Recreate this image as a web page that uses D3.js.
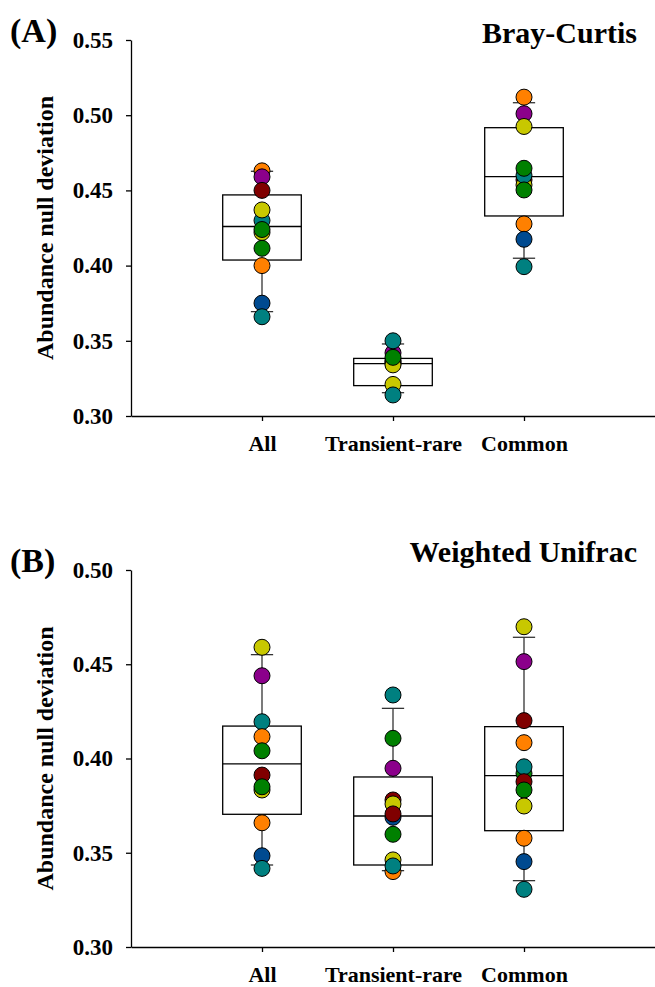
<!doctype html>
<meta charset="utf-8">
<title>Abundance null deviation</title>
<style>
body { margin: 0; background: #fff; }
svg text { font-family: "Liberation Serif", "Times New Roman", serif; font-weight: bold; fill: #000; }
.axis path, .axis line { stroke: #000; stroke-width: 1.3px; }
.box rect, .box line { stroke: #000; stroke-width: 1.3px; fill: none; }
.wh line { stroke: #333; stroke-width: 1.3px; }
circle.pt { stroke: #000; stroke-width: 1px; }
</style>
<script src="https://d3js.org/d3.v7.min.js"></script>
<body>
<script>
var width = 655, height = 987;

var categories = ["All", "Transient-rare", "Common"];
var sites = ["S1", "S2", "S3", "S4", "S5", "S6", "S7"];
var siteColors = ["#ff8000", "#8b008b", "#800000", "#c8c800", "#008080", "#008000", "#004a90"];

// panel A: Bray-Curtis, points as [site, value], listed in drawing order
var brayAll = [["S1",0.463],["S2",0.459],["S3",0.450],["S5",0.430],["S4",0.437],["S4",0.422],["S6",0.424],
  ["S6",0.4115],["S1",0.400],["S7",0.375],["S5",0.366]];
var brayRare = [["S3",0.337],["S7",0.336],["S1",0.335],["S4",0.334],["S2",0.342],["S6",0.339],
  ["S5",0.350],["S4",0.321],["S5",0.314]];
var brayCommon = [["S1",0.512],["S2",0.501],["S4",0.4925],["S3",0.457],["S4",0.4536],["S5",0.460],
  ["S6",0.4647],["S6",0.4503],["S1",0.4277],["S7",0.4175],["S5",0.3993]];
// box stats: [whisker low, q1, median, q3, whisker high]
var brayBoxes = [[0.3694,0.4037,0.426,0.447,0.4627],[0.3155,0.3202,0.3348,0.3383,0.3479],[0.4049,0.433,0.4591,0.4917,0.5083]];

// panel B: Weighted Unifrac
var uniAll = [["S4",0.459],["S2",0.4439],["S5",0.4195],["S1",0.4116],["S6",0.4041],["S3",0.3912],
  ["S4",0.3833],["S6",0.385],["S1",0.3659],["S7",0.3484],["S5",0.3417]];
var uniRare = [["S5",0.4337],["S6",0.4107],["S2",0.3948],["S3",0.378],["S4",0.3759],["S7",0.3688],
  ["S3",0.3706],["S6",0.3598],["S1",0.340],["S4",0.3462],["S5",0.343]];
var uniCommon = [["S4",0.4699],["S2",0.4514],["S3",0.4201],["S1",0.4084],["S6",0.3921],["S5",0.3956],
  ["S3",0.3877],["S6",0.3833],["S4",0.3748],["S1",0.3577],["S7",0.3453],["S5",0.3306]];
var uniBoxes = [[0.3435,0.3704,0.3972,0.4172,0.4551],[0.3405,0.3435,0.3695,0.3902,0.4266],[0.3352,0.3617,0.3909,0.4169,0.4643]];

var color = d3.scaleOrdinal().domain(sites).range(siteColors);

var svg = d3.select("body").append("svg")
    .attr("width", width)
    .attr("height", height);

var x = d3.scaleLinear().domain([0, 4]).range([131, 655]);

function panel(opt) {
  var y = d3.scaleLinear().domain(opt.domain).range([opt.bottom, opt.top]);
  var g = svg.append("g");

  g.append("g").attr("class", "axis")
      .attr("transform", "translate(131,0)")
      .call(d3.axisLeft(y).tickValues(opt.ticks).tickFormat(d3.format(".2f"))
        .tickSize(5).tickSizeOuter(0).tickPadding(13))
      .selectAll("text").style("font-size", "23px");

  g.append("g").attr("class", "axis")
      .attr("transform", "translate(0," + opt.bottom + ")")
      .call(d3.axisBottom(x).tickValues([1, 2, 3]).tickFormat(function(d) { return categories[d - 1]; })
        .tickSize(5).tickSizeOuter(0).tickPadding(14))
      .selectAll("text").style("font-size", "22px");

  g.append("text")
      .attr("transform", "translate(53," + ((opt.top + opt.bottom) / 2) + ") rotate(-90)")
      .attr("text-anchor", "middle")
      .style("font-size", "24px")
      .text("Abundance null deviation");

  g.append("text").attr("x", 10).attr("y", opt.top + 2)
      .style("font-size", "34px").text(opt.letter);

  g.append("text").attr("x", 637).attr("y", opt.titleY)
      .attr("text-anchor", "end")
      .style("font-size", "30px").text(opt.title);

  var bw = 0.6, cw = 0.17;
  opt.boxes.forEach(function(b, i) {
    var cx = i + 1;
    var wh = g.append("g").attr("class", "wh");
    wh.append("line").attr("x1", x(cx)).attr("x2", x(cx)).attr("y1", y(b[0])).attr("y2", y(b[1]));
    wh.append("line").attr("x1", x(cx)).attr("x2", x(cx)).attr("y1", y(b[3])).attr("y2", y(b[4]));
    wh.append("line").attr("x1", x(cx - cw / 2)).attr("x2", x(cx + cw / 2)).attr("y1", y(b[0])).attr("y2", y(b[0]));
    wh.append("line").attr("x1", x(cx - cw / 2)).attr("x2", x(cx + cw / 2)).attr("y1", y(b[4])).attr("y2", y(b[4]));
    var bx = g.append("g").attr("class", "box");
    bx.append("rect").attr("x", x(cx - bw / 2)).attr("width", x(bw) - x(0))
        .attr("y", y(b[3])).attr("height", y(b[1]) - y(b[3]));
    bx.append("line").attr("x1", x(cx - bw / 2)).attr("x2", x(cx + bw / 2)).attr("y1", y(b[2])).attr("y2", y(b[2]));
  });

  opt.groups.forEach(function(pts, i) {
    g.selectAll(null).data(pts).enter().append("circle")
        .attr("class", "pt")
        .attr("cx", x(i + 1))
        .attr("cy", function(d) { return y(d[1]); })
        .attr("r", 8)
        .attr("fill", function(d) { return color(d[0]); });
  });
}

panel({ domain: [0.30, 0.55], ticks: [0.30, 0.35, 0.40, 0.45, 0.50, 0.55], top: 40, bottom: 416,
  letter: "(A)", title: "Bray-Curtis", titleY: 43, boxes: brayBoxes, groups: [brayAll, brayRare, brayCommon] });
panel({ domain: [0.30, 0.50], ticks: [0.30, 0.35, 0.40, 0.45, 0.50], top: 570, bottom: 947,
  letter: "(B)", title: "Weighted Unifrac", titleY: 562, boxes: uniBoxes, groups: [uniAll, uniRare, uniCommon] });
</script>
